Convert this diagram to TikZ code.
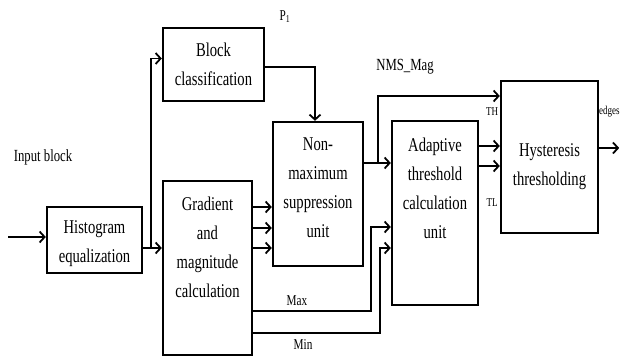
\documentclass[tikz,border=0pt]{standalone}
\usepackage{fontspec}
\setmainfont[FakeStretch=0.75]{Liberation Serif}
\usetikzlibrary{arrows.meta,calc}
\tikzset{
  box/.style={draw, line width=2.4pt, inner sep=0pt},
  txt/.style={align=center, inner sep=0pt, font=\fontsize{19.5}{29}\selectfont},
  lbl/.style={inner sep=0pt, font=\fontsize{17}{20}\selectfont},
  slbl/.style={inner sep=0pt, font=\fontsize{15}{18}\selectfont},
  tlbl/.style={inner sep=0pt, font=\fontsize{12}{14}\selectfont},
  arr/.style={line width=1.8pt, -{Straight Barb[length=5pt,width=11pt,line width=1.8pt]}},
  ln/.style={line width=1.8pt}
}
\begin{document}
\begin{tikzpicture}[x=1pt,y=-1pt]
\fill[white] (0,0) rectangle (622,363);
\useasboundingbox (0,0) rectangle (622,363);
% boxes
\node[box, minimum width=95pt, minimum height=66pt] (hist) at (94.5,240) {};
\node[box, minimum width=101pt, minimum height=73pt] (blk) at (213.5,64.5) {};
\node[box, minimum width=90pt, minimum height=144pt] (nms) at (318,194) {};
\node[box, minimum width=89pt, minimum height=174pt] (grad) at (207.5,268) {};
\node[box, minimum width=86pt, minimum height=184pt] (adt) at (435,213) {};
\node[box, minimum width=97pt, minimum height=152pt] (hys) at (549.5,157) {};
% box texts
\node[txt] (thist) at (94.5,244) {Histogram\\equalization};
\node[txt] (tblk) at (213.5,64) {Block\\classification};
\node[txt] (tnms) at (318,188) {Non-\\maximum\\suppression\\unit};
\node[txt] (tgrad) at (207.5,247) {Gradient\\and\\magnitude\\calculation};
\node[txt] (tadt) at (435,188) {Adaptive\\threshold\\calculation\\unit};
\node[txt] (thys) at (549.5,167) {Hysteresis\\thresholding};
% labels
\node[lbl] (linput) at (43,157) {Input block};
\node[slbl] (lp1) at (285,17) {P\textsubscript{1}};
\node[lbl] (lnms) at (405,67) {NMS\_Mag};
\node[slbl] (lmax) at (297,301) {Max};
\node[slbl] (lmin) at (303,345) {Min};
\node[tlbl] (lth) at (492,112) {TH};
\node[tlbl] (ltl) at (492,203) {TL};
\node[tlbl, anchor=west] (ledges) at (599,112) {edges};
% connectors
\coordinate (in) at (8,237);
\draw[arr] (in) -- (in -| hist.west);
\draw[arr] ($(hist.east)+(0,8)$) coordinate (h1) -- (h1 -| grad.west);
\draw[arr] ($(h1)+(8,0)$) |- ($(blk.west)+(0,-6)$);
\draw[arr] ($(blk.east)+(0,2.5)$) -| ($(nms.north)+(-3,0)$);
\foreach \dy in {-61,-40,-20}
  \draw[arr] ($(grad.east)+(0,\dy)$) coordinate (g) -- (g -| nms.west);
\draw[arr] ($(nms.east)+(0,-31)$) coordinate (n1) -- (n1 -| adt.west);
\draw[arr] ($(n1)+(14,0)$) |- ($(hys.west)+(0,-61)$);
\draw[arr] ($(grad.east)+(0,43)$) -| ($(adt.west)+(-20,14)$) -- ($(adt.west)+(0,14)$);
\draw[arr] ($(grad.east)+(0,65)$) -| ($(adt.west)+(-11,35)$) -- ($(adt.west)+(0,35)$);
\foreach \dy in {-67,-47}
  \draw[arr] ($(adt.east)+(0,\dy)$) coordinate (a) -- (a -| hys.west);
\coordinate (out) at ($(hys.east)+(20,-9)$);
\draw[arr] ($(hys.east)+(0,-9)$) -- (out);
\end{tikzpicture}
\end{document}
